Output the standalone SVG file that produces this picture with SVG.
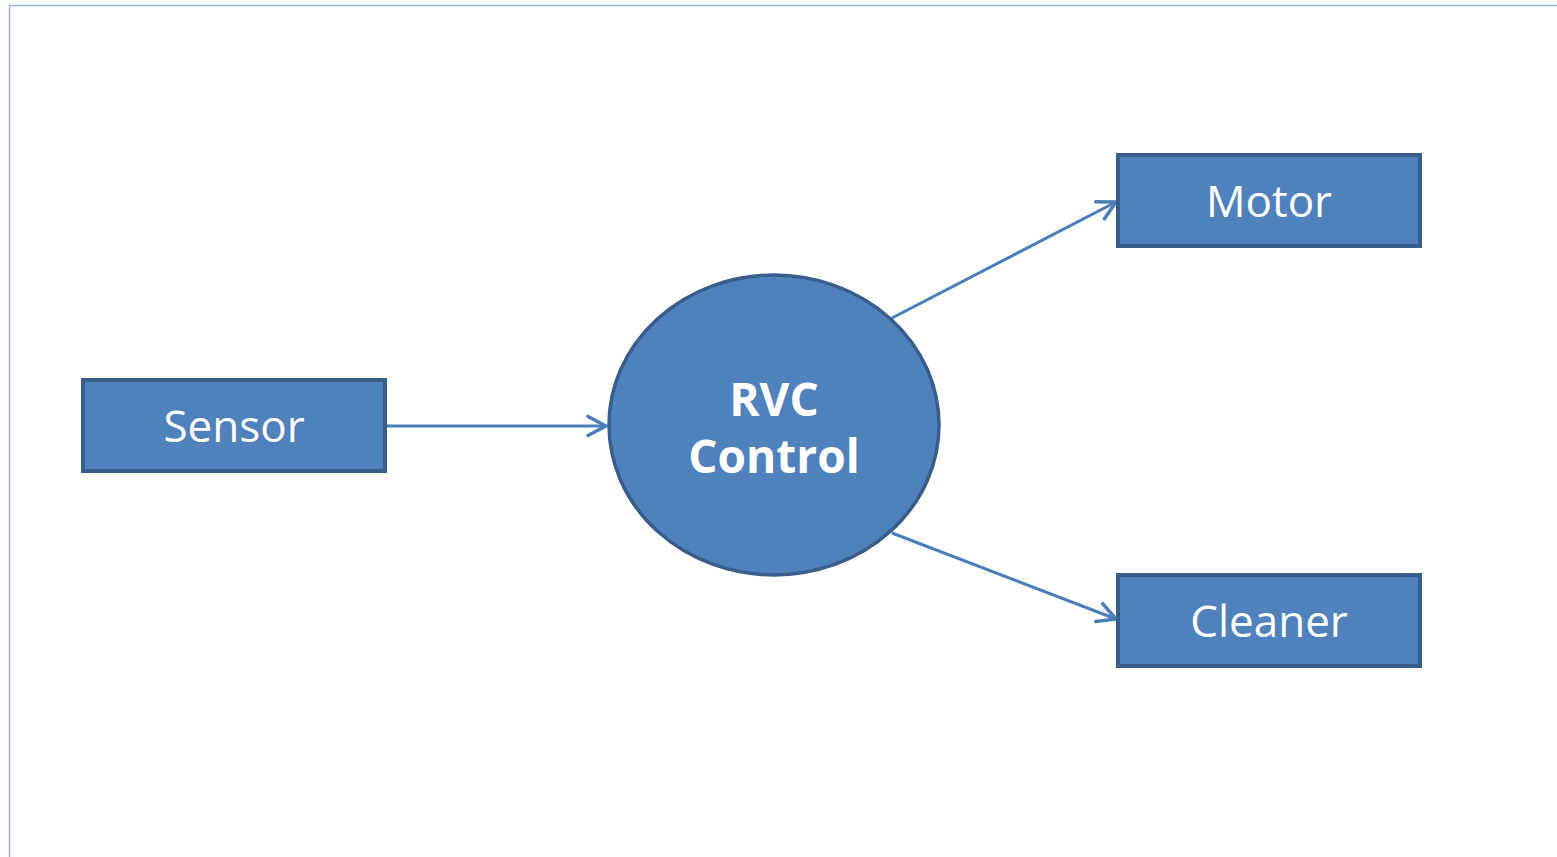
<svg xmlns="http://www.w3.org/2000/svg" width="1557" height="857" viewBox="0 0 1557 857">
<defs>
<style>
.box{fill:#4f81bd;stroke:#385d8a;stroke-width:4}
.lbl{fill:#fff;font-family:"Open Sans","Noto Sans","DejaVu Sans",sans-serif;font-size:44px;font-weight:400;text-anchor:middle}
.bold{font-weight:700;font-size:46px}
.conn{stroke:#4a7ebb;stroke-width:3;fill:none}
</style>
<marker id="arr" markerWidth="24" markerHeight="24" refX="20" refY="12" orient="auto" markerUnits="userSpaceOnUse">
<path d="M2,2.5 L20,12 L2,21.5" fill="none" stroke="#4a7ebb" stroke-width="3.5" stroke-linecap="round" stroke-linejoin="round"/>
</marker>
</defs>
<rect width="1557" height="857" fill="#fff"/>
<g id="frame" fill="none" stroke="#95b3d7" stroke-width="1.5">
<line x1="9" y1="5.5" x2="1557" y2="5.5"/>
<line x1="9.5" y1="5" x2="9.5" y2="857"/>
</g>
<g id="connectors">
<line class="conn" x1="386" y1="426" x2="606" y2="426" marker-end="url(#arr)"/>
<line class="conn" x1="892" y1="318" x2="1116" y2="202" marker-end="url(#arr)"/>
<line class="conn" x1="892" y1="533" x2="1116" y2="619" marker-end="url(#arr)"/>
</g>
<g id="sensor">
<rect class="box" x="83" y="380" width="302" height="91"/>
<text class="lbl" x="234" y="442">Sensor</text>
</g>
<g id="rvc">
<ellipse cx="774" cy="425" rx="165" ry="150" fill="#4f81bd" stroke="#385d8a" stroke-width="3.5"/>
<text class="lbl bold" x="774" y="416">RVC</text>
<text class="lbl bold" x="774" y="473">Control</text>
</g>
<g id="motor">
<rect class="box" x="1118" y="155" width="302" height="91"/>
<text class="lbl" x="1269" y="217">Motor</text>
</g>
<g id="cleaner">
<rect class="box" x="1118" y="575" width="302" height="91"/>
<text class="lbl" x="1269" y="637">Cleaner</text>
</g>
</svg>
